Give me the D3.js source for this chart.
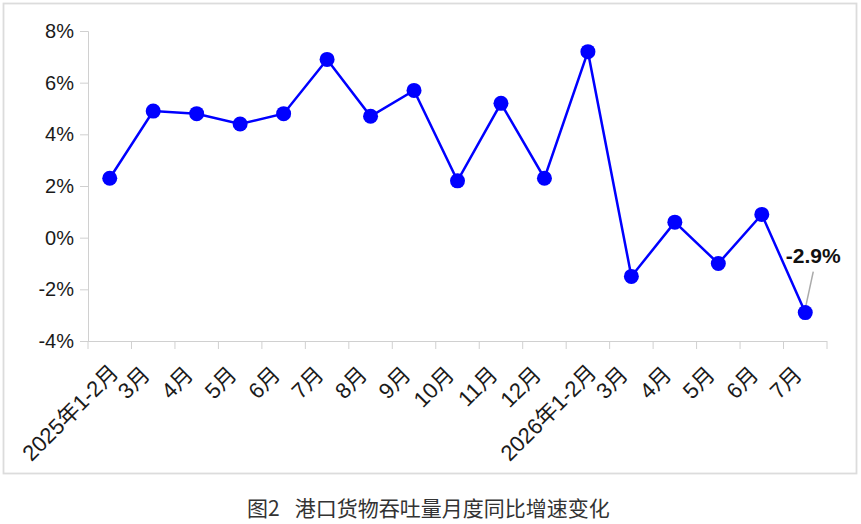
<!DOCTYPE html>
<html>
<head>
<meta charset="utf-8">
<script src="https://cdn.jsdelivr.net/npm/d3@7"></script>
<style>
  body { margin: 0; background: #fff; }
  svg { display: block; }
</style>
</head>
<body>
<svg id="chart" width="861" height="524"></svg>
<script>
// Data
const categories = ["2025年1-2月", "3月", "4月", "5月", "6月", "7月", "8月", "9月", "10月", "11月", "12月",
  "2026年1-2月", "3月", "4月", "5月", "6月", "7月"];
const growth = [2.3, 4.9, 4.8, 4.4, 4.8, 6.9, 4.7, 5.7, 2.2, 5.2, 2.3, 7.2, -1.5, 0.6, -1.0, 0.9, -2.9];
const yTicks = [-4, -2, 0, 2, 4, 6, 8];

const svg = d3.select("#chart");
const plotLeft = 88, plotRight = 827, plotTop = 31, plotBottom = 341;

// outer frame
svg.append("rect")
  .attr("x", 3.5).attr("y", 3.5)
  .attr("width", 853).attr("height", 470)
  .attr("fill", "none").attr("stroke", "#dcdcdc").attr("stroke-width", 1.8);

const x = d3.scaleBand().domain(d3.range(categories.length)).range([plotLeft, plotRight]);
const y = d3.scaleLinear().domain([-4, 8]).range([plotBottom, plotTop]);

// y axis
const yAxis = svg.append("g")
  .attr("transform", `translate(${plotLeft},0)`)
  .call(d3.axisLeft(y).tickValues(yTicks).tickSize(8).tickPadding(6).tickFormat(d => d + "%"));
yAxis.select(".domain").attr("stroke", "#d0d0d0");
yAxis.selectAll(".tick line").attr("stroke", "#d0d0d0");
yAxis.selectAll("text")
  .attr("font-family", "Liberation Sans, Arial, sans-serif")
  .attr("font-size", 20).attr("fill", "#1a1a1a");

// x axis
const xAxis = svg.append("g")
  .attr("transform", `translate(0,${plotBottom})`)
  .call(d3.axisBottom(x).tickSize(0).tickFormat(""));
xAxis.select(".domain").attr("stroke", "#d0d0d0").attr("d", `M${plotLeft},0.5H${plotRight}`);
xAxis.selectAll(".tick").remove();

// boundary ticks
const bounds = d3.range(categories.length + 1).map(i => plotLeft + i * x.step());
svg.append("g").selectAll("line")
  .data(bounds)
  .join("line")
  .attr("x1", d => d).attr("x2", d => d)
  .attr("y1", plotBottom).attr("y2", plotBottom + 8)
  .attr("stroke", "#d0d0d0");

// rotated labels (long year labels sit a bit further right, as in the original)
const cx = i => x(i) + x.bandwidth() / 2;
svg.append("g").selectAll("text")
  .data(categories)
  .join("text")
  .attr("transform", (d, i) => {
    const long = d.length > 4;
    return `translate(${cx(i) - 2 + (long ? 12 : 0)},${plotBottom + (long ? 33 : 35)}) rotate(-45)`;
  })
  .attr("text-anchor", "end")
  .attr("font-family", "Liberation Sans, Arial, 'Noto Sans CJK SC', sans-serif")
  .attr("font-size", 22)
  .attr("fill", "#1a1a1a")
  .text(d => d);

// line
svg.append("path")
  .datum(growth)
  .attr("fill", "none")
  .attr("stroke", "#0000ff")
  .attr("stroke-width", 2.5)
  .attr("d", d3.line().x((d, i) => cx(i)).y(d => y(d)));

// last point annotation leader
const last = growth.length - 1;
svg.append("line")
  .attr("x1", cx(last) + 8).attr("y1", y(growth[last]) - 41)
  .attr("x2", cx(last)).attr("y2", y(growth[last]) - 4)
  .attr("stroke", "#aaaaaa").attr("stroke-width", 1.5);

svg.append("g").selectAll("circle")
  .data(growth)
  .join("circle")
  .attr("cx", (d, i) => cx(i))
  .attr("cy", d => y(d))
  .attr("r", 7.5)
  .attr("fill", "#0000ff");

svg.append("text")
  .attr("x", cx(last) + 8).attr("y", y(growth[last]) - 50)
  .attr("text-anchor", "middle")
  .attr("font-family", "Liberation Sans, Arial, sans-serif")
  .attr("font-size", 21).attr("font-weight", "bold")
  .attr("fill", "#111")
  .text(growth[last].toFixed(1) + "%");

// caption
const caption = svg.append("text")
  .attr("x", 247).attr("y", 516)
  .attr("font-family", "'Noto Sans CJK SC', sans-serif")
  .attr("font-size", 21)
  .attr("fill", "#333");
caption.append("tspan").text("图2");
caption.append("tspan").attr("dx", 15).text("港口货物吞吐量月度同比增速变化");
</script>
</body>
</html>
